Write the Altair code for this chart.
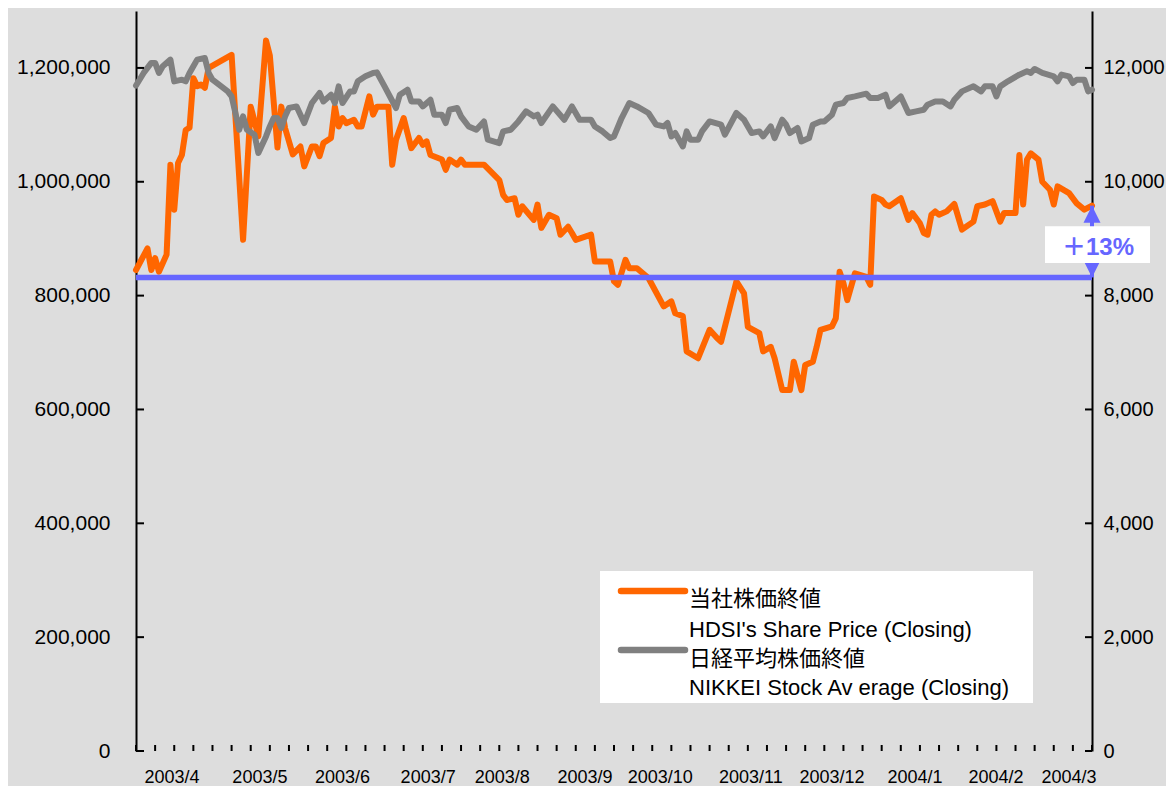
import altair as alt
import pandas as pd

# ---------------- data ----------------
# x = trading-day index over FY2003 (0 .. 250), y = closing values
hdsi_day = [0, 3, 4, 5, 6, 8, 9, 10, 11, 12, 13, 14, 15, 16, 17, 18, 19, 25, 28, 30,
            32, 34, 35, 37, 38, 39, 41, 43, 44, 46, 47, 48, 49, 51, 52, 53, 54, 55, 57, 58,
            59, 61, 62, 63, 66, 67, 68, 70, 72, 74, 75, 76, 77, 80, 81, 82, 84, 85, 86, 91,
            95, 96, 97, 99, 100, 101, 104, 105, 106, 108, 110, 111, 113, 114, 115, 119, 120, 124, 125, 126,
            128, 129, 131, 134, 138, 140, 141, 143, 144, 147, 150, 152, 153, 157, 159, 160, 163, 164, 166, 167,
            169, 171, 172, 174, 175, 177, 178, 179, 182, 183, 184, 185, 186, 188, 191, 192, 193, 195, 196, 197,
            200, 202, 203, 205, 206, 207, 208, 209, 210, 212, 214, 216, 219, 220, 222, 224, 226, 227, 230, 231,
            232, 233, 234, 236, 237, 239, 240, 241, 244, 246, 248, 250]
hdsi_price = [845000, 883000, 845000, 866000, 842000, 872000, 1030000, 951000, 1033000, 1047000,
              1091000, 1095000, 1182000, 1168000, 1171000, 1165000, 1200000, 1223000, 898000, 1132000,
              1080000, 1248000, 1222000, 1060000, 1132000, 1094000, 1048000, 1062000, 1027000, 1062000,
              1062000, 1045000, 1068000, 1077000, 1132000, 1097000, 1112000, 1103000, 1109000, 1097000,
              1097000, 1150000, 1118000, 1132000, 1132000, 1030000, 1074000, 1112000, 1059000, 1077000,
              1065000, 1071000, 1047000, 1039000, 1021000, 1039000, 1030000, 1039000, 1030000, 1030000,
              1003000, 977000, 968000, 971000, 942000, 957000, 933000, 960000, 919000, 942000,
              936000, 907000, 921000, 910000, 898000, 907000, 860000, 860000, 825000, 819000,
              863000, 848000, 848000, 831000, 781000, 790000, 769000, 764000, 702000, 690000,
              740000, 725000, 719000, 825000, 804000, 745000, 734000, 702000, 710000, 690000,
              634000, 634000, 684000, 634000, 678000, 684000, 710000, 740000, 746000, 760000,
              842000, 822000, 792000, 839000, 833000, 819000, 974000, 968000, 960000, 957000,
              971000, 933000, 945000, 927000, 910000, 907000, 942000, 948000, 942000, 948000,
              961000, 916000, 930000, 957000, 960000, 966000, 930000, 945000, 945000, 1047000,
              960000, 1039000, 1050000, 1039000, 1000000, 986000, 960000, 992000, 980000, 962000,
              951000, 958000]

nikkei_day = [0, 2, 4, 5, 6, 7, 9, 10, 12, 13, 14, 15, 16, 18, 19, 20, 24, 25, 27, 28,
              29, 31, 32, 34, 35, 36, 37, 38, 39, 40, 42, 44, 46, 48, 49, 51, 52, 53, 54, 56,
              57, 58, 60, 62, 63, 65, 68, 69, 71, 72, 74, 75, 77, 78, 80, 81, 82, 84, 85, 87,
              89, 91, 92, 95, 96, 98, 100, 102, 104, 105, 106, 109, 112, 114, 116, 119, 120, 122, 124, 125,
              127, 129, 131, 134, 136, 138, 139, 140, 141, 143, 144, 145, 147, 148, 150, 153, 154, 157, 159, 161,
              163, 164, 166, 167, 169, 170, 171, 173, 174, 176, 177, 179, 180, 182, 183, 185, 186, 188, 191, 192,
              194, 196, 197, 200, 202, 204, 206, 207, 209, 211, 213, 214, 216, 219, 221, 222, 224, 225, 226, 228,
              231, 233, 234, 235, 237, 240, 241, 242, 244, 245, 246, 248, 249, 250]
nikkei_close = [11690, 11912, 12088, 12088, 11912, 12028, 12146, 11764, 11794, 11764,
                11912, 12028, 12146, 12175, 11912, 11794, 11588, 11500, 10914, 11149,
                10914, 10826, 10504, 10797, 10972, 11120, 11120, 10944, 11149, 11296,
                11324, 11032, 11384, 11560, 11412, 11530, 11384, 11676, 11384, 11588,
                11588, 11764, 11852, 11912, 11922, 11676, 11296, 11530, 11618, 11412,
                11412, 11324, 11442, 11178, 11178, 11032, 11266, 11296, 11149, 10972,
                10914, 11060, 10739, 10680, 10885, 10914, 11060, 11237, 11149, 11178,
                11032, 11324, 11090, 11324, 11090, 11090, 10972, 10885, 10768, 10797,
                11120, 11384, 11324, 11208, 11003, 10972, 11032, 10797, 10856, 10621,
                10885, 10739, 10739, 10885, 11060, 11003, 10827, 11208, 11090, 10856,
                10885, 10797, 10972, 10768, 11090, 11003, 10856, 10944, 10709, 10768,
                11003, 11060, 11060, 11178, 11354, 11384, 11472, 11500, 11548, 11472,
                11472, 11530, 11324, 11500, 11208, 11237, 11266, 11354, 11412, 11412,
                11324, 11442, 11588, 11676, 11588, 11676, 11676, 11500, 11676, 11764,
                11882, 11940, 11912, 11982, 11912, 11852, 11764, 11882, 11852, 11735,
                11794, 11794, 11588, 11618]

month_labels = ["2003/4", "2003/5", "2003/6", "2003/7", "2003/8", "2003/9",
                "2003/10", "2003/11", "2003/12", "2004/1", "2004/2", "2004/3"]
month_pos = [9.4, 32.4, 54.0, 76.4, 95.8, 117.4, 137.1, 160.8, 182.0, 203.7, 224.9, 244.0]

left_ticks = [0, 200000, 400000, 600000, 800000, 1000000, 1200000]
right_ticks = [0, 2000, 4000, 6000, 8000, 10000, 12000]
x_minor_ticks = [5 * i for i in range(51)]

baseline_price = 832000
change_label = "＋13%"

legend_hdsi = ["当社株価終値", "HDSI's Share Price (Closing)"]
legend_nikkei = ["日経平均株価終値", "NIKKEI Stock Av erage (Closing)"]

# ---------------- styles ----------------
W, H = 956, 740
FONT = "Liberation Sans, Arial, Noto Sans CJK JP, sans-serif"
ORANGE = "#FF6600"
GRAY = "#808080"
BLUE = "#6666FF"
BG = "#DDDDDD"

x_scale = alt.Scale(domain=[0, 250], nice=False, zero=False)
yl_scale = alt.Scale(domain=[0, 1300000], nice=False)
yr_scale = alt.Scale(domain=[0, 13000], nice=False)

hdsi_df = pd.DataFrame({"day": hdsi_day, "price": hdsi_price})
nikkei_df = pd.DataFrame({"day": nikkei_day, "close": nikkei_close})
base_df = pd.DataFrame({
    "start": [hdsi_day[0]], "end": [hdsi_day[-1]],
    "base": [baseline_price], "last": [hdsi_price[-1]], "label": [change_label],
})

# ---------------- series ----------------
orange = alt.Chart(hdsi_df).mark_line(
    color=ORANGE, strokeWidth=6, strokeJoin="round", strokeCap="round"
).encode(
    x=alt.X("day:Q", scale=x_scale,
            axis=alt.Axis(labels=False, ticks=False, domain=True,
                          domainColor="black", domainWidth=2, grid=False, title=None)),
    y=alt.Y("price:Q", scale=yl_scale,
            axis=alt.Axis(values=left_ticks, format=",d", ticks=False,
                          labelPadding=26, labelFontSize=21, labelFont=FONT,
                          labelColor="black", domainColor="black", domainWidth=2,
                          grid=False, title=None)),
)

gray = alt.Chart(nikkei_df).mark_line(
    color=GRAY, strokeWidth=6, strokeJoin="round", strokeCap="round"
).encode(
    x=alt.X("day:Q", scale=x_scale, axis=None),
    y=alt.Y("close:Q", scale=yr_scale,
            axis=alt.Axis(orient="right", values=right_ticks, format=",d", ticks=False,
                          labelPadding=11, labelFontSize=20, labelFont=FONT,
                          labelColor="black", domainColor="black", domainWidth=2,
                          grid=False, title=None)),
)

# ---------------- inward tick marks ----------------
left_tick_marks = alt.Chart(pd.DataFrame({"v": left_ticks})).mark_rule(
    color="black", strokeWidth=2
).encode(y=alt.Y("v:Q", scale=yl_scale, axis=None), x=alt.value(0), x2=alt.value(8))

right_tick_marks = alt.Chart(pd.DataFrame({"v": right_ticks})).mark_rule(
    color="black", strokeWidth=2
).encode(y=alt.Y("v:Q", scale=yr_scale, axis=None), x=alt.value(W - 7), x2=alt.value(W))

bottom_tick_marks = alt.Chart(pd.DataFrame({"d": x_minor_ticks})).mark_rule(
    color="black", strokeWidth=2
).encode(x=alt.X("d:Q", scale=x_scale, axis=None), y=alt.value(H), y2=alt.value(H - 6))

month_text = alt.Chart(pd.DataFrame({"m": month_labels, "p": month_pos})).mark_text(
    font=FONT, fontSize=18, color="black", align="center", baseline="middle"
).encode(x=alt.X("p:Q", scale=x_scale, axis=None), y=alt.value(H + 27), text="m:N")

# ---------------- +13% annotation ----------------
baseline = alt.Chart(base_df).mark_rule(color=BLUE, strokeWidth=5.5).encode(
    x=alt.X("start:Q", scale=x_scale, axis=None), x2="end:Q",
    y=alt.Y("base:Q", scale=yl_scale, axis=None),
)

shaft = alt.Chart(base_df).mark_rule(color=BLUE, strokeWidth=4).encode(
    x=alt.X("end:Q", scale=x_scale, axis=None),
    y=alt.Y("base:Q", scale=yl_scale, axis=None), y2="last:Q",
)

tri_up = alt.Chart(base_df).mark_point(
    shape="M0,0L-1,2L1,2Z", size=289, filled=True, color=BLUE, opacity=1, strokeWidth=0
).encode(x=alt.X("end:Q", scale=x_scale, axis=None),
         y=alt.Y("last:Q", scale=yl_scale, axis=None))

tri_down = alt.Chart(base_df).mark_point(
    shape="M0,0L-1,-2L1,-2Z", size=289, filled=True, color=BLUE, opacity=1, strokeWidth=0
).encode(x=alt.X("end:Q", scale=x_scale, axis=None),
         y=alt.Y("base:Q", scale=yl_scale, axis=None))

box = alt.Chart(base_df).transform_calculate(
    mid="(datum.base + datum.last) / 2"
).mark_point(
    shape="M-1,-0.35L1,-0.35L1,0.35L-1,0.35Z", size=105 * 105, filled=True,
    color="white", opacity=1, strokeWidth=0, xOffset=5.5, yOffset=3
).encode(x=alt.X("end:Q", scale=x_scale, axis=None),
         y=alt.Y("mid:Q", scale=yl_scale, axis=None))

pct = alt.Chart(base_df).transform_calculate(
    mid="(datum.base + datum.last) / 2"
).mark_text(
    font=FONT, fontSize=24, fontWeight="bold", color=BLUE,
    align="center", baseline="middle", dx=6, dy=6
).encode(x=alt.X("end:Q", scale=x_scale, axis=None),
         y=alt.Y("mid:Q", scale=yl_scale, axis=None), text="label:N")

# ---------------- legend (drawn by hand) ----------------
one = pd.DataFrame({"k": [0]})
leg_box = alt.Chart(one).mark_rect(color="white").encode(
    x=alt.value(464), x2=alt.value(897), y=alt.value(560), y2=alt.value(692))
leg_orange = alt.Chart(one).mark_rule(color=ORANGE, strokeWidth=6.5, strokeCap="round").encode(
    x=alt.value(485), x2=alt.value(549), y=alt.value(580))
leg_gray = alt.Chart(one).mark_rule(color=GRAY, strokeWidth=6.5, strokeCap="round").encode(
    x=alt.value(485), x2=alt.value(549), y=alt.value(639))


def leg_text(txt, ypos):
    return alt.Chart(pd.DataFrame({"t": [txt]})).mark_text(
        font=FONT, fontSize=22, color="black", align="left", baseline="middle"
    ).encode(x=alt.value(553), y=alt.value(ypos), text="t:N")


legend_layers = [leg_box, leg_orange, leg_gray,
                 leg_text(legend_hdsi[0], 588), leg_text(legend_hdsi[1], 619),
                 leg_text(legend_nikkei[0], 648), leg_text(legend_nikkei[1], 677)]

chart = alt.layer(
    orange, gray, baseline, left_tick_marks, right_tick_marks, bottom_tick_marks,
    month_text, shaft, tri_up, tri_down, box, pct, *legend_layers
).resolve_scale(y="independent").properties(
    width=W, height=H,
    padding={"left": 128, "top": 3, "right": 74, "bottom": 35},
    autosize=alt.AutoSizeParams(type="none"),
    background=BG,
).configure_view(stroke=None, fill=BG)

chart.save("out.html", embed_options={"renderer": "svg", "actions": False})
